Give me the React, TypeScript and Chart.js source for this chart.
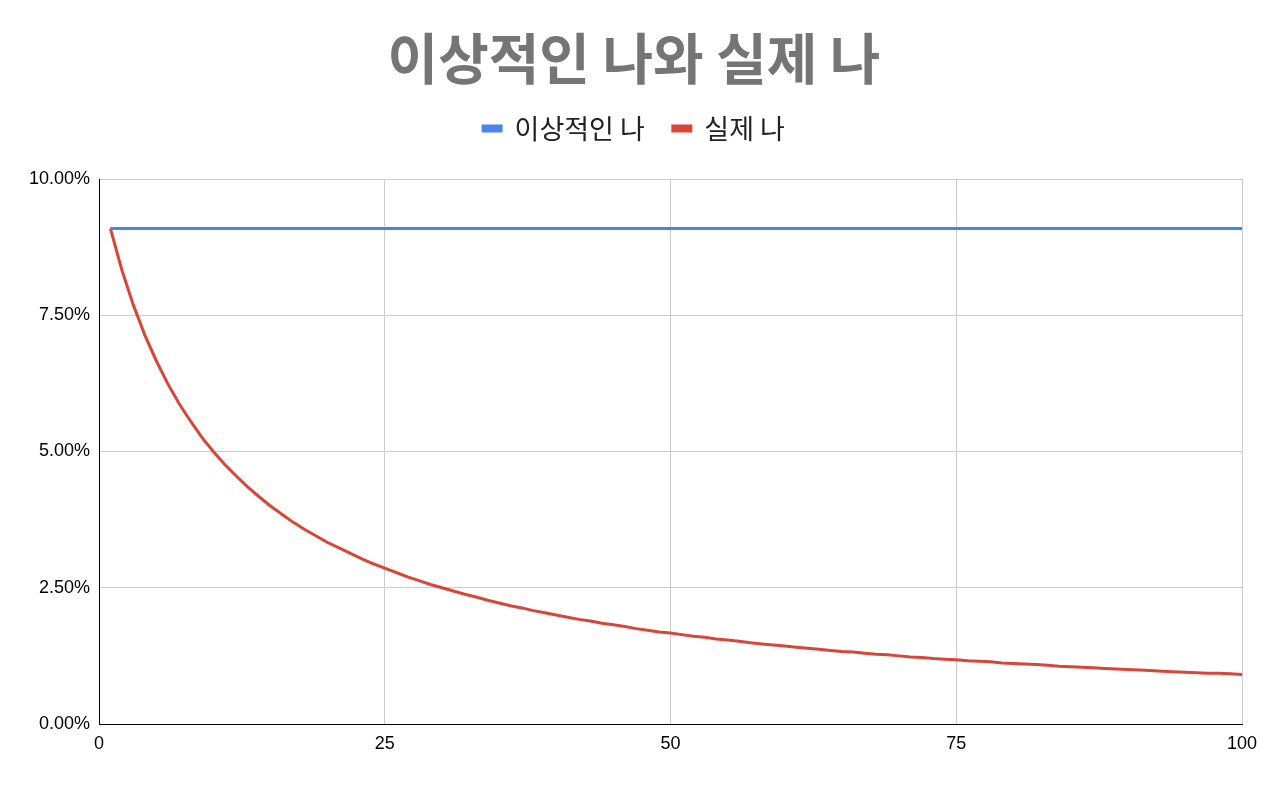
import { useEffect, useRef } from 'react';
import { Chart, registerables } from 'chart.js';

Chart.register(...registerables);

const TITLE = '이상적인 나와 실제 나';
const SERIES_NAMES = ['이상적인 나', '실제 나'];

// x: 1 ~ 100
const xValues = [
  1, 2, 3, 4, 5, 6, 7, 8, 9, 10,
  11, 12, 13, 14, 15, 16, 17, 18, 19, 20,
  21, 22, 23, 24, 25, 26, 27, 28, 29, 30,
  31, 32, 33, 34, 35, 36, 37, 38, 39, 40,
  41, 42, 43, 44, 45, 46, 47, 48, 49, 50,
  51, 52, 53, 54, 55, 56, 57, 58, 59, 60,
  61, 62, 63, 64, 65, 66, 67, 68, 69, 70,
  71, 72, 73, 74, 75, 76, 77, 78, 79, 80,
  81, 82, 83, 84, 85, 86, 87, 88, 89, 90,
  91, 92, 93, 94, 95, 96, 97, 98, 99, 100,
];

// 이상적인 나: 처음부터 끝까지 같은 값
const idealX = [1, 100];
const idealValues = [0.0909, 0.0909];

// 실제 나: 점점 줄어듦
const realValues = [
  0.0909, 0.0833, 0.0769, 0.0714, 0.0667, 0.0625, 0.0588, 0.0556, 0.0526, 0.0500,
  0.0476, 0.0455, 0.0435, 0.0417, 0.0400, 0.0385, 0.0370, 0.0357, 0.0345, 0.0333,
  0.0323, 0.0313, 0.0303, 0.0294, 0.0286, 0.0278, 0.0270, 0.0263, 0.0256, 0.0250,
  0.0244, 0.0238, 0.0233, 0.0227, 0.0222, 0.0217, 0.0213, 0.0208, 0.0204, 0.0200,
  0.0196, 0.0192, 0.0189, 0.0185, 0.0182, 0.0179, 0.0175, 0.0172, 0.0169, 0.0167,
  0.0164, 0.0161, 0.0159, 0.0156, 0.0154, 0.0152, 0.0149, 0.0147, 0.0145, 0.0143,
  0.0141, 0.0139, 0.0137, 0.0135, 0.0133, 0.0132, 0.0130, 0.0128, 0.0127, 0.0125,
  0.0123, 0.0122, 0.0120, 0.0119, 0.0118, 0.0116, 0.0115, 0.0114, 0.0112, 0.0111,
  0.0110, 0.0109, 0.0108, 0.0106, 0.0105, 0.0104, 0.0103, 0.0102, 0.0101, 0.0100,
  0.0099, 0.0098, 0.0097, 0.0096, 0.0095, 0.0094, 0.0093, 0.0093, 0.0092, 0.0091,
];

const xTicks = [0, 25, 50, 75, 100];
const yTicks = [0, 0.025, 0.05, 0.075, 0.1];

const BLUE = '#4a84e8';
const RED = '#d8463a';
const KR_FONT = '"Noto Sans CJK KR", "Noto Sans", sans-serif';
const TICK_FONT = '"Liberation Sans", Arial, sans-serif';

export default function App() {
  const canvasRef = useRef<HTMLCanvasElement>(null);
  const chartRef = useRef<Chart | null>(null);

  useEffect(() => {
    document.body.style.margin = '0';
    if (!canvasRef.current) return;
    const ctx = canvasRef.current.getContext('2d');
    if (!ctx) return;

    if (chartRef.current) chartRef.current.destroy();

    chartRef.current = new Chart(ctx, {
      type: 'line',
      data: {
        datasets: [
          {
            label: SERIES_NAMES[0],
            data: idealX.map((x, i) => ({ x, y: idealValues[i] })),
            borderColor: BLUE,
            backgroundColor: BLUE,
            borderWidth: 3,
            pointRadius: 0,
            tension: 0,
          },
          {
            label: SERIES_NAMES[1],
            data: xValues.map((x, i) => ({ x, y: realValues[i] })),
            borderColor: RED,
            backgroundColor: RED,
            borderWidth: 3,
            pointRadius: 0,
            tension: 0,
          },
        ],
      },
      options: {
        animation: false,
        responsive: true,
        maintainAspectRatio: false,
        layout: { padding: { left: 26, right: 38, top: 0, bottom: 0 } },
        plugins: {
          title: {
            display: true,
            text: TITLE,
            color: '#757575',
            font: { family: KR_FONT, size: 55, weight: 'bold', lineHeight: 1 },
            padding: { top: 31, bottom: 1 },
          },
          // 범례와 그래프 사이 여백용
          subtitle: {
            display: true,
            text: '',
            weight: 500,
            font: { size: 1, lineHeight: 1 },
            padding: { top: 0, bottom: 26 },
          } as any,
          legend: {
            display: true,
            labels: {
              color: '#222',
              font: { family: KR_FONT, size: 27 },
              boxWidth: 18,
              boxHeight: 5,
              padding: 28,
            },
          },
          tooltip: { enabled: false },
        },
        scales: {
          x: {
            type: 'linear',
            min: 0,
            max: 100,
            afterBuildTicks: (scale: any) => {
              scale.ticks = xTicks.map(v => ({ value: v }));
            },
            afterFit: (scale: any) => {
              scale.height = 63;
            },
            ticks: {
              color: '#000',
              font: { family: TICK_FONT, size: 18 },
              padding: 9,
              maxRotation: 0,
            },
            grid: { color: '#cccccc', lineWidth: 1, drawTicks: false },
            border: { color: '#000', width: 1 },
          },
          y: {
            type: 'linear',
            min: 0,
            max: 0.1,
            afterBuildTicks: (scale: any) => {
              scale.ticks = yTicks.map(v => ({ value: v }));
            },
            afterFit: (scale: any) => {
              scale.width = 73;
            },
            ticks: {
              color: '#000',
              font: { family: TICK_FONT, size: 18 },
              padding: 9,
              callback: (v: any) => (Number(v) * 100).toFixed(2) + '%',
            },
            grid: { color: '#cccccc', lineWidth: 1, drawTicks: false },
            border: { color: '#000', width: 1 },
          },
        },
      },
    });

    return () => {
      if (chartRef.current) {
        chartRef.current.destroy();
        chartRef.current = null;
      }
    };
  }, []);

  return (
    <div style={{ width: 1280, height: 787, position: 'relative', background: '#fff' }}>
      <canvas ref={canvasRef} />
    </div>
  );
}
